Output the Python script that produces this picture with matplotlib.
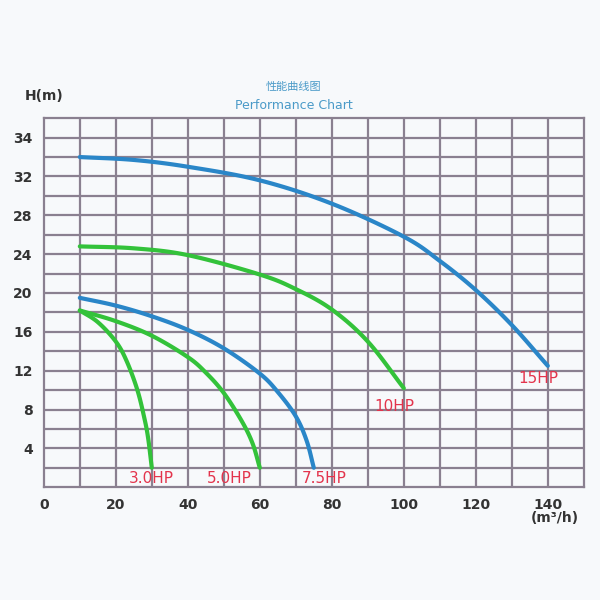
import matplotlib
matplotlib.use("Agg")
import matplotlib.pyplot as plt
import numpy as np

plt.rcParams['font.family'] = ['DejaVu Sans', 'Noto Sans CJK SC']

q15 = [10, 25, 40, 60, 80, 100, 110, 120, 130, 140]
h15 = [34.0, 33.7, 33.0, 31.6, 29.2, 25.8, 23.3, 20.3, 16.7, 12.5]
q10 = [10, 25, 40, 60, 70, 80, 90, 100]
h10 = [24.8, 24.6, 23.9, 21.9, 20.4, 18.3, 15.0, 10.2]
q75 = [10, 20, 30, 40, 50, 60, 65, 70, 73, 75]
h75 = [19.5, 18.7, 17.6, 16.2, 14.3, 11.7, 9.8, 7.3, 4.8, 2.0]
q50 = [10, 20, 30, 40, 45, 50, 55, 58, 60]
h50 = [18.2, 17.1, 15.6, 13.4, 11.8, 9.7, 6.8, 4.5, 2.0]
q30 = [10, 15, 20, 23, 26, 28, 29, 30]
h30 = [18.2, 17.0, 15.0, 13.0, 10.0, 7.0, 5.0, 2.0]
labels = ["15HP", "10HP", "7.5HP", "5.0HP", "3.0HP"]
label_pos = [(137.5, 11.2), (97.5, 8.3), (78, 0.9), (51.5, 0.9), (30, 0.9)]
yticks = [4, 8, 12, 16, 20, 24, 28, 32, 36]
yticklabels = ["4", "8", "12", "16", "20", "24", "28", "32", "34"]
xticks = [0, 20, 40, 60, 80, 100, 120, 140]


def smooth(x, y, n=12):
    # Catmull-Rom smoothing through the read points
    x = np.asarray(x, float); y = np.asarray(y, float)
    P = np.column_stack([x, y])
    P = np.vstack([2 * P[0] - P[1], P, 2 * P[-1] - P[-2]])
    out = []
    for i in range(1, len(P) - 2):
        p0, p1, p2, p3 = P[i - 1], P[i], P[i + 1], P[i + 2]
        for t in np.linspace(0, 1, n, endpoint=False):
            out.append(0.5 * ((2 * p1) + (-p0 + p2) * t + (2 * p0 - 5 * p1 + 4 * p2 - p3) * t ** 2
                              + (-p0 + 3 * p1 - 3 * p2 + p3) * t ** 3))
    out.append(P[-2])
    out = np.array(out)
    return out[:, 0], out[:, 1]


fig = plt.figure(figsize=(6, 6), dpi=100)
fig.patch.set_facecolor('#f7f9fb')
ax = fig.add_axes([0.073, 0.188, 0.9, 0.615])
ax.set_facecolor('#f7f9fb')
ax.set_xlim(0, 150)
ax.set_ylim(0, 38)
gc = '#8a8090'
for v in np.arange(10, 150, 10):
    ax.axvline(v, color=gc, lw=1.6, zorder=0)
for v in np.arange(2, 38, 2):
    ax.axhline(v, color=gc, lw=1.6, zorder=0)
ax.set_xticks(xticks)
ax.set_yticks(yticks)
ax.set_yticklabels(yticklabels)
ax.tick_params(length=0, labelsize=10, pad=8)
for t in ax.get_xticklabels() + ax.get_yticklabels():
    t.set_fontweight('bold'); t.set_color('#333333')
for s in ax.spines.values():
    s.set_color(gc); s.set_linewidth(1.6)

blue = '#2a86c8'; green = '#33c23a'; red = '#e3344c'
for q, h, c in [(q15, h15, blue), (q10, h10, green), (q75, h75, blue), (q50, h50, green), (q30, h30, green)]:
    xs, ys = smooth(q, h)
    ax.plot(xs, ys, color=c, lw=3, solid_capstyle='round')
for lab, (x, y) in zip(labels, label_pos):
    ax.text(x, y, lab, color=red, fontsize=11, ha='center', va='center')

fig.text(0.073, 0.833, "H(m)", fontsize=10, fontweight='bold', ha='center', color='#333333')
fig.text(0.49, 0.85, "性能曲线图", fontsize=8, color='#4a9ac8', ha='center')
fig.text(0.49, 0.818, "Performance Chart", fontsize=9, color='#4a9ac8', ha='center')
fig.text(0.925, 0.13, "(m³/h)", fontsize=10, fontweight='bold', ha='center', color='#333333')
fig.savefig("out.png", facecolor=fig.get_facecolor())
